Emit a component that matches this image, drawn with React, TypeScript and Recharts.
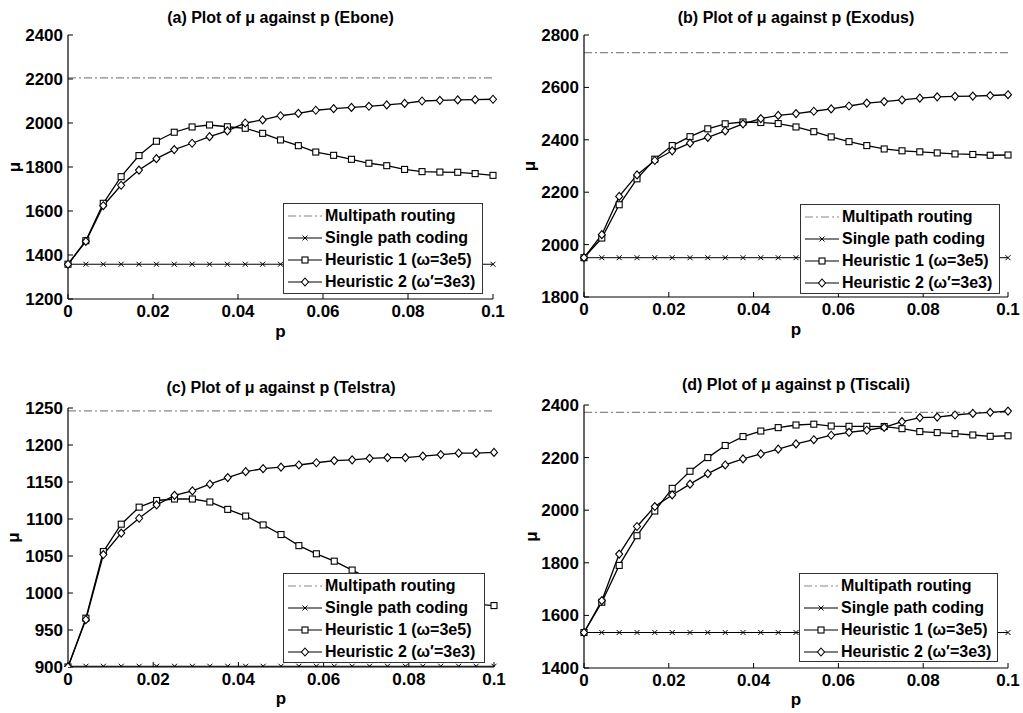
import React from "react";
import { LineChart, Line, XAxis, YAxis, Legend } from "recharts";

// p values of the 25 sample points
const P = [0, 0.0042, 0.0083, 0.0125, 0.0167, 0.0208, 0.025, 0.0292, 0.0333, 0.0375, 0.0417, 0.0458, 0.05,
  0.0542, 0.0583, 0.0625, 0.0667, 0.0708, 0.075, 0.0792, 0.0833, 0.0875, 0.0917, 0.0958, 0.1];
const X_TICKS = [0, 0.02, 0.04, 0.06, 0.08, 0.1];

// (a) Ebone
const ebMulti = 2205;
const ebSingle = 1358;
const ebH1 = [1358, 1465, 1635, 1756, 1852, 1917, 1958, 1982, 1991, 1983, 1976, 1953, 1923, 1897, 1868, 1853,
  1835, 1817, 1806, 1789, 1779, 1777, 1776, 1770, 1762];
const ebH2 = [1358, 1462, 1624, 1717, 1786, 1838, 1879, 1908, 1938, 1964, 2000, 2014, 2033, 2044, 2058, 2065,
  2071, 2076, 2082, 2089, 2100, 2103, 2105, 2106, 2108];
const ebTicks = [1200, 1400, 1600, 1800, 2000, 2200, 2400];

// (b) Exodus
const exMulti = 2733;
const exSingle = 1950;
const exH1 = [1950, 2025, 2152, 2251, 2326, 2378, 2412, 2442, 2461, 2468, 2466, 2462, 2449, 2431, 2411, 2393,
  2378, 2365, 2358, 2354, 2350, 2346, 2344, 2341, 2342];
const exH2 = [1950, 2038, 2184, 2266, 2321, 2358, 2387, 2409, 2434, 2461, 2481, 2493, 2500, 2509, 2518, 2529,
  2540, 2546, 2552, 2559, 2564, 2566, 2567, 2569, 2572];
const exTicks = [1800, 2000, 2200, 2400, 2600, 2800];

// (c) Telstra
const teMulti = 1246;
const teSingle = 901;
const teH1 = [900, 966, 1056, 1093, 1116, 1125, 1127, 1127, 1123, 1113, 1104, 1092, 1079, 1064, 1053, 1043,
  1031, 1019, 1010, 1003, 997, 992, 988, 985, 983];
const teH2 = [900, 964, 1052, 1081, 1101, 1119, 1132, 1138, 1147, 1156, 1164, 1168, 1170, 1173, 1176, 1179,
  1180, 1182, 1183, 1183, 1185, 1187, 1189, 1189, 1190];
const teTicks = [900, 950, 1000, 1050, 1100, 1150, 1200, 1250];

// (d) Tiscali
const tiMulti = 2372;
const tiSingle = 1535;
const tiH1 = [1535, 1650, 1790, 1903, 1997, 2083, 2148, 2200, 2246, 2280, 2301, 2314, 2324, 2327, 2320, 2319,
  2319, 2318, 2310, 2299, 2295, 2291, 2286, 2281, 2283];
const tiH2 = [1535, 1656, 1833, 1938, 2014, 2058, 2099, 2139, 2172, 2195, 2214, 2232, 2252, 2268, 2285, 2296,
  2304, 2315, 2337, 2352, 2354, 2362, 2368, 2372, 2377];
const tiTicks = [1400, 1600, 1800, 2000, 2200, 2400];

const LABELS = ["Multipath routing", "Single path coding", "Heuristic 1 (\u03c9=3e5)", "Heuristic 2 (\u03c9\u2032=3e3)"];

const FONT = "'Liberation Sans', Arial, Helvetica, sans-serif";
const tickStyle = { fill: "#000", fontSize: 17, fontWeight: 700, fontFamily: FONT };

const squareDot = (props: any) => {
  const { cx, cy, index } = props;
  if (cx == null || cy == null) return <g key={`sq-${index}`} />;
  return <rect key={`sq-${index}`} x={cx - 3} y={cy - 3} width={6} height={6} fill="#fff" stroke="#000" strokeWidth={1.1} />;
};

const diamondDot = (props: any) => {
  const { cx, cy, index } = props;
  if (cx == null || cy == null) return <g key={`dm-${index}`} />;
  return (
    <polygon key={`dm-${index}`} points={`${cx},${cy - 4} ${cx + 3.5},${cy} ${cx},${cy + 4} ${cx - 3.5},${cy}`}
      fill="#fff" stroke="#000" strokeWidth={1.1} />
  );
};

const crossDot = (props: any) => {
  const { cx, cy, index } = props;
  if (cx == null || cy == null) return <g key={`cr-${index}`} />;
  return (
    <path key={`cr-${index}`} d={`M${cx - 2.5},${cy - 2.5}L${cx + 2.5},${cy + 2.5}M${cx - 2.5},${cy + 2.5}L${cx + 2.5},${cy - 2.5}`}
      stroke="#000" strokeWidth={1} />
  );
};

function LegendIcon({ kind }: { kind: number }) {
  const y = 11;
  return (
    <svg width={40} height={22} style={{ flex: "none" }}>
      <line x1={4} x2={38} y1={y} y2={y} stroke={kind === 0 ? "#888" : "#000"} strokeWidth={kind === 0 ? 1.2 : 1.1}
        strokeDasharray={kind === 0 ? "8 3 2 3" : undefined} />
      {kind === 1 && crossDot({ cx: 21, cy: y, index: 0 })}
      {kind === 2 && squareDot({ cx: 21, cy: y, index: 0 })}
      {kind === 3 && diamondDot({ cx: 21, cy: y, index: 0 })}
    </svg>
  );
}

function LegendBox({ width, height }: { width: number; height: number }) {
  return (
    <div style={{
      width, height, boxSizing: "border-box", border: "1px solid #333", background: "#fff",
      paddingTop: 1, fontFamily: FONT, fontSize: 16, fontWeight: 700, color: "#000",
    }}>
      {LABELS.map((l, i) => (
        <div key={l} style={{ display: "flex", alignItems: "center", height: 22, whiteSpace: "nowrap" }}>
          <LegendIcon kind={i} />
          <span style={{ marginLeft: 1 }}>{l}</span>
        </div>
      ))}
    </div>
  );
}

function MuLabel(props: any) {
  const vb = props.viewBox || {};
  const cx = (vb.x ?? 0) + props.dx0;
  const cy = (vb.y ?? 0) + (vb.height ?? 0) / 2;
  return (
    <text x={cx} y={cy} textAnchor="middle" dominantBaseline="central" transform={`rotate(-90, ${cx}, ${cy})`}
      fontFamily={FONT} fontSize={17} fontWeight={700} fill="#000">{"\u03bc"}</text>
  );
}

interface PanelProps {
  title: string;
  left: number;
  top: number;
  width: number;
  height: number;
  margin: { top: number; right: number; bottom: number; left: number };
  titleTop: number;
  domain: [number, number];
  ticks: number[];
  multi: number;
  single: number;
  h1: number[];
  h2: number[];
  legend: { left: number; top: number; width: number; height: number };
  muDx: number;
  pOffset: number;
}

function Panel(p: PanelProps) {
  const data = P.map((x, i) => ({ p: x, multi: p.multi, single: p.single, h1: p.h1[i], h2: p.h2[i] }));
  const plotLeft = p.margin.left + 50;
  const plotWidth = p.width - plotLeft - p.margin.right;
  return (
    <div style={{ position: "absolute", left: p.left, top: p.top, width: p.width, height: p.height }}>
      <div style={{
        position: "absolute", left: plotLeft - 40, width: plotWidth + 80, top: p.titleTop, textAlign: "center",
        fontFamily: FONT, fontSize: 16, fontWeight: 700, lineHeight: "18px", color: "#000", whiteSpace: "nowrap",
      }}>{p.title}</div>
      <LineChart width={p.width} height={p.height} data={data} margin={p.margin}>
        <XAxis dataKey="p" type="number" domain={[0, 0.1]} ticks={X_TICKS} interval={0} height={30}
          tickFormatter={(v) => String(v)} tick={tickStyle} tickSize={-5} tickMargin={11}
          axisLine={{ stroke: "#000", strokeWidth: 1.2 }} tickLine={{ stroke: "#000" }}
          label={{ value: "p", position: "bottom", offset: p.pOffset, fill: "#000", fontSize: 17, fontWeight: 700, fontFamily: FONT }} />
        <YAxis type="number" domain={p.domain} ticks={p.ticks} interval={0} width={50} allowDataOverflow
          tick={tickStyle} tickSize={-5} tickMargin={10}
          axisLine={{ stroke: "#000", strokeWidth: 1.2 }} tickLine={{ stroke: "#000" }}
          label={<MuLabel dx0={p.muDx} />} />
        <Legend layout="vertical" align="center" verticalAlign="middle"
          wrapperStyle={{ left: p.legend.left, top: p.legend.top, width: p.legend.width, height: p.legend.height }}
          content={() => <LegendBox width={p.legend.width} height={p.legend.height} />} />
        <Line type="linear" dataKey="multi" stroke="#888" strokeWidth={1.2} strokeDasharray="8 3 2 3" dot={false}
          activeDot={false} isAnimationActive={false} />
        <Line type="linear" dataKey="single" stroke="#000" strokeWidth={1} dot={crossDot}
          activeDot={false} isAnimationActive={false} />
        <Line type="linear" dataKey="h1" stroke="#000" strokeWidth={1.3} dot={squareDot}
          activeDot={false} isAnimationActive={false} />
        <Line type="linear" dataKey="h2" stroke="#000" strokeWidth={1.3} dot={diamondDot}
          activeDot={false} isAnimationActive={false} />
      </LineChart>
    </div>
  );
}

export default function App() {
  return (
    <div style={{ position: "absolute", left: 0, top: 0, width: 1023, height: 713, background: "#fff" }}>
      <Panel title={"(a) Plot of \u03bc against p (Ebone)"} left={0} top={0} width={511} height={356}
        margin={{ top: 35, right: 18, bottom: 27, left: 18 }} titleTop={9}
        domain={[1200, 2400]} ticks={ebTicks} multi={ebMulti} single={ebSingle} h1={ebH1} h2={ebH2}
        legend={{ left: 283, top: 203, width: 200, height: 91 }} muDx={-4} pOffset={-4} />
      <Panel title={"(b) Plot of \u03bc against p (Exodus)"} left={511} top={0} width={512} height={356}
        margin={{ top: 35, right: 15, bottom: 29, left: 23 }} titleTop={9}
        domain={[1800, 2800]} ticks={exTicks} multi={exMulti} single={exSingle} h1={exH1} h2={exH2}
        legend={{ left: 289, top: 204, width: 200, height: 90 }} muDx={-5} pOffset={-4} />
      <Panel title={"(c) Plot of \u03bc against p (Telstra)"} left={0} top={356} width={511} height={357}
        margin={{ top: 52, right: 17, bottom: 16, left: 18 }} titleTop={23}
        domain={[900, 1250]} ticks={teTicks} multi={teMulti} single={teSingle} h1={teH1} h2={teH2}
        legend={{ left: 283, top: 217, width: 202, height: 90 }} muDx={-5} pOffset={-5} />
      <Panel title={"(d) Plot of \u03bc against p (Tiscali)"} left={511} top={356} width={512} height={357}
        margin={{ top: 49, right: 15, bottom: 15, left: 23 }} titleTop={20}
        domain={[1400, 2400]} ticks={tiTicks} multi={tiMulti} single={tiSingle} h1={tiH1} h2={tiH2}
        legend={{ left: 288, top: 217, width: 199, height: 89 }} muDx={-3} pOffset={-5} />
    </div>
  );
}
